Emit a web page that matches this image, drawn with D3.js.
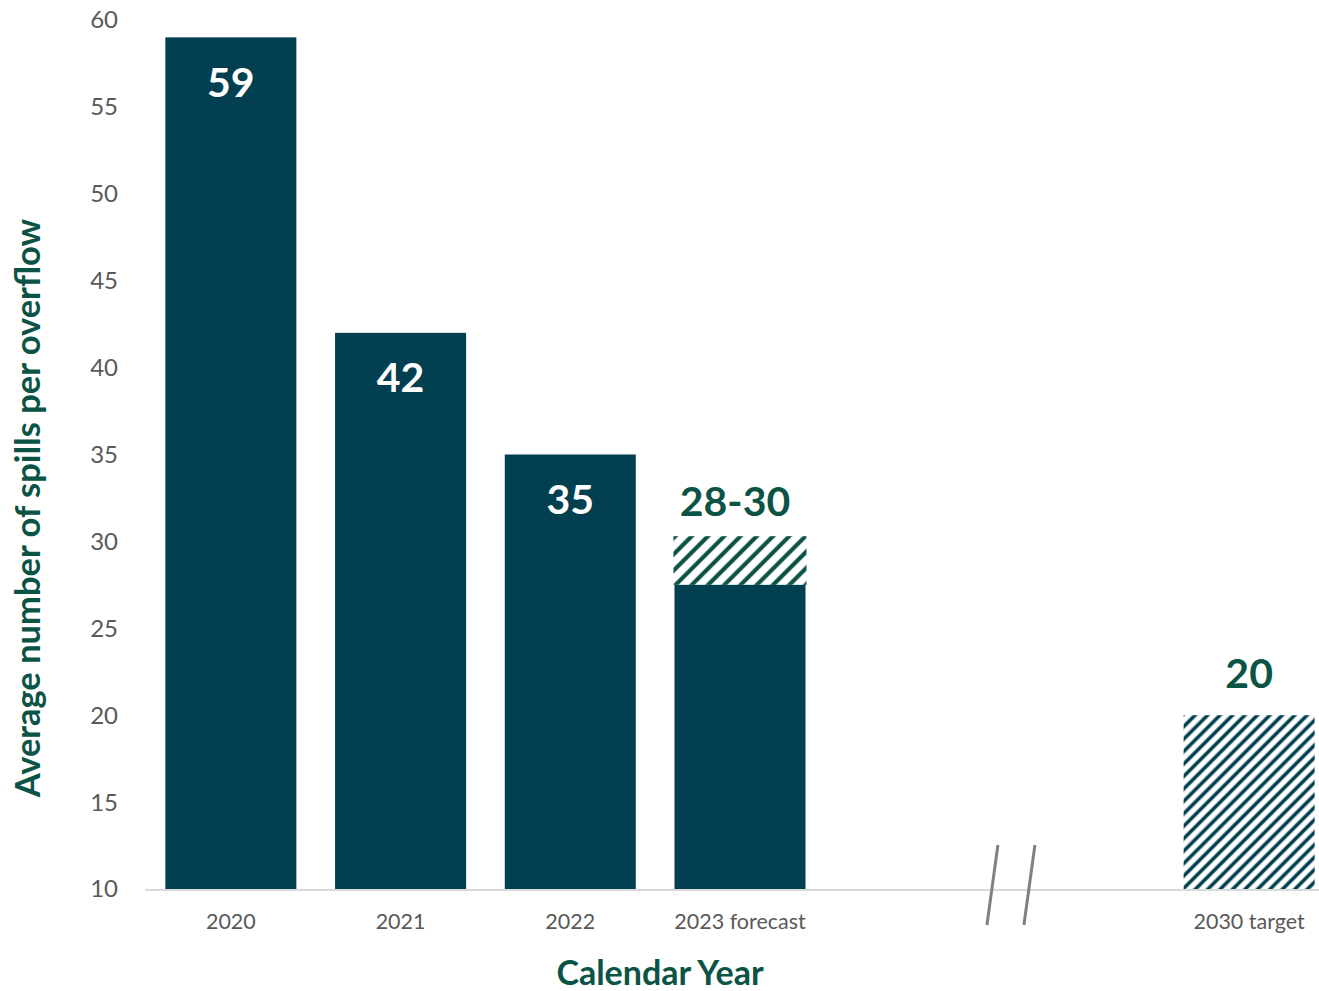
<!DOCTYPE html>
<html>
<head>
<meta charset="utf-8">
<script src="https://cdn.jsdelivr.net/npm/d3@7"></script>
<style>
  body { margin: 0; background: #fff; }
  svg { display: block; font-family: Lato, "Open Sans", sans-serif; }
</style>
</head>
<body>
<div id="svg-container"></div>
<script>
// chart data
const categories = ["2020", "2021", "2022", "2023 forecast", "gap1", "gap2", "2030 target"];
const solidValues = [59, 42, 35, 27.5, null, null, null];
const hatchValues = [null, null, null, 30.3, null, null, 20];
const valueLabels = ["59", "42", "35", "28-30", "", "", "20"];
const yTicks = [10, 15, 20, 25, 30, 35, 40, 45, 50, 55, 60];

const width = 1319, height = 991;
const teal = "#023f50";
const green = "#0b5345";

const svg = d3.select("#svg-container").append("svg")
    .attr("width", width)
    .attr("height", height);

const x = d3.scaleBand()
    .domain(categories)
    .range([146, 1334])
    .paddingInner(0.228)
    .paddingOuter(0.114);

const y = d3.scaleLinear()
    .domain([10, 60])
    .range([889, 20]);

// hatch patterns
const defs = svg.append("defs");
function hatch(id, size, sw, color) {
    const p = defs.append("pattern")
        .attr("id", id)
        .attr("patternUnits", "userSpaceOnUse")
        .attr("width", size)
        .attr("height", size)
        .attr("patternTransform", "rotate(45)");
    p.append("rect").attr("width", size).attr("height", size).attr("fill", "#fff");
    p.append("line")
        .attr("x1", size / 2).attr("y1", 0)
        .attr("x2", size / 2).attr("y2", size)
        .attr("stroke", color)
        .attr("stroke-width", sw);
}
hatch("hatchGreen", 11.5, 4.2, green);
hatch("hatchTeal", 8.8, 3.6, teal);

// y axis labels
svg.append("g")
    .selectAll("text")
    .data(yTicks)
    .enter().append("text")
    .attr("x", 118)
    .attr("y", d => y(d))
    .attr("dy", "0.35em")
    .attr("text-anchor", "end")
    .attr("fill", "#595959")
    .style("font-size", "24px")
    .text(d => d);

// baseline
svg.append("line")
    .attr("x1", 145).attr("x2", 1319)
    .attr("y1", y(10) + 1).attr("y2", y(10) + 1)
    .attr("stroke", "#d9d9d9")
    .attr("stroke-width", 2);

const idx = d3.range(categories.length);

// hatched parts sit on top of the solid part (or the baseline)
svg.append("g")
    .selectAll("rect")
    .data(idx.filter(i => hatchValues[i] != null))
    .enter().append("rect")
    .attr("x", i => x(categories[i]) - (i === 3 ? 1 : 0))
    .attr("width", i => x.bandwidth() + (i === 3 ? 2 : 0))
    .attr("y", i => y(hatchValues[i]))
    .attr("height", i => y(solidValues[i] != null ? solidValues[i] : 10) - y(hatchValues[i]))
    .attr("fill", i => i === 3 ? "url(#hatchGreen)" : "url(#hatchTeal)");

// solid bars
svg.append("g")
    .selectAll("rect")
    .data(idx.filter(i => solidValues[i] != null))
    .enter().append("rect")
    .attr("x", i => x(categories[i]))
    .attr("width", x.bandwidth())
    .attr("y", i => y(solidValues[i]))
    .attr("height", i => y(10) - y(solidValues[i]))
    .attr("fill", teal);

// value labels
svg.append("g")
    .selectAll("text")
    .data(idx.filter(i => valueLabels[i] !== ""))
    .enter().append("text")
    .attr("x", i => x(categories[i]) + x.bandwidth() / 2 - (i === 3 ? 5 : 0))
    .attr("y", i => hatchValues[i] != null
        ? y(hatchValues[i]) - (solidValues[i] != null ? 35 : 42)
        : y(solidValues[i]) + 45)
    .attr("dy", "0.35em")
    .attr("text-anchor", "middle")
    .attr("fill", i => hatchValues[i] != null ? green : "#fff")
    .style("font-size", "41px")
    .style("font-weight", "bold")
    .text(i => valueLabels[i]);

// x tick labels
svg.append("g")
    .selectAll("text")
    .data(categories.filter(c => !c.startsWith("gap")))
    .enter().append("text")
    .attr("x", d => x(d) + x.bandwidth() / 2)
    .attr("y", 921)
    .attr("dy", "0.35em")
    .attr("text-anchor", "middle")
    .attr("fill", "#595959")
    .style("font-size", "21.5px")
    .text(d => d);

// axis break marks
const bx = x("gap2") - 22;
[0, 37].forEach(off => {
    svg.append("line")
        .attr("x1", bx + off - 5).attr("y1", 925)
        .attr("x2", bx + off + 6).attr("y2", 845)
        .attr("stroke", "#808080")
        .attr("stroke-width", 3);
});

// axis titles
svg.append("text")
    .attr("x", 660)
    .attr("y", 973)
    .attr("dy", "0.35em")
    .attr("text-anchor", "middle")
    .attr("fill", green)
    .style("font-size", "34px")
    .style("font-weight", "bold")
    .text("Calendar Year");

svg.append("text")
    .attr("transform", "translate(28,508) rotate(-90)")
    .attr("dy", "0.35em")
    .attr("text-anchor", "middle")
    .attr("fill", green)
    .style("font-size", "34.5px")
    .style("font-weight", "bold")
    .text("Average number of spills per overflow");
</script>
</body>
</html>
